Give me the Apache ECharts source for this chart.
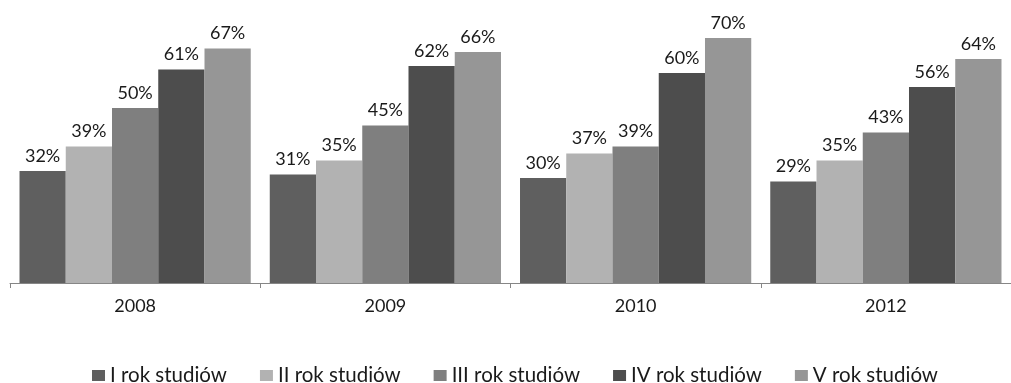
<!DOCTYPE html>
<html>
<head>
<meta charset="utf-8">
<script src="https://cdn.jsdelivr.net/npm/echarts@6/dist/echarts.min.js"></script>
<style>
  html, body { margin: 0; padding: 0; background: #ffffff; overflow: hidden; }
  #chart { width: 1011px; height: 383px; }
</style>
</head>
<body>
<div id="chart"></div>
<script>
// Share of students per year of study, by survey year
const years = ['2008', '2009', '2010', '2012'];
const seriesNames = ['I rok studiów', 'II rok studiów', 'III rok studiów', 'IV rok studiów', 'V rok studiów'];
const rokI   = [32, 31, 30, 29];
const rokII  = [39, 35, 37, 35];
const rokIII = [50, 45, 39, 43];
const rokIV  = [61, 62, 60, 56];
const rokV   = [67, 66, 70, 64];
const colors = ['#5f5f5f', '#b2b2b2', '#7f7f7f', '#4d4d4d', '#969696'];

const values = [rokI, rokII, rokIII, rokIV, rokV];
const font = 'Lato, "Open Sans", sans-serif';

const chart = echarts.init(document.getElementById('chart'), null, { renderer: 'canvas' });
chart.setOption({
  animation: false,
  textStyle: { fontFamily: font },
  grid: { left: 10, top: 3, width: 1004, bottom: 100, containLabel: false },
  xAxis: {
    type: 'category',
    data: years,
    axisLine: { lineStyle: { color: '#868686', width: 1 } },
    axisTick: { show: true, length: 5, lineStyle: { color: '#868686' } },
    axisLabel: { color: '#1a1a1a', fontSize: 18, margin: 14, fontFamily: font }
  },
  yAxis: {
    type: 'value',
    min: 0,
    max: 80,
    show: false,
    splitLine: { show: false }
  },
  legend: {
    top: 365,
    left: 92,
    padding: 0,
    icon: 'rect',
    itemWidth: 13,
    itemHeight: 11,
    itemGap: 33,
    textStyle: { color: '#1a1a1a', fontSize: 20.5, fontFamily: font },
    data: seriesNames
  },
  series: seriesNames.map((name, i) => ({
    name: name,
    type: 'bar',
    data: values[i],
    barGap: '0%',
    barCategoryGap: '7.6%',
    itemStyle: { color: colors[i] },
    label: {
      show: true,
      position: 'top',
      distance: 6,
      formatter: '{c}%',
      color: '#1a1a1a',
      fontSize: 18,
      fontFamily: font
    }
  }))
});
</script>
</body>
</html>
